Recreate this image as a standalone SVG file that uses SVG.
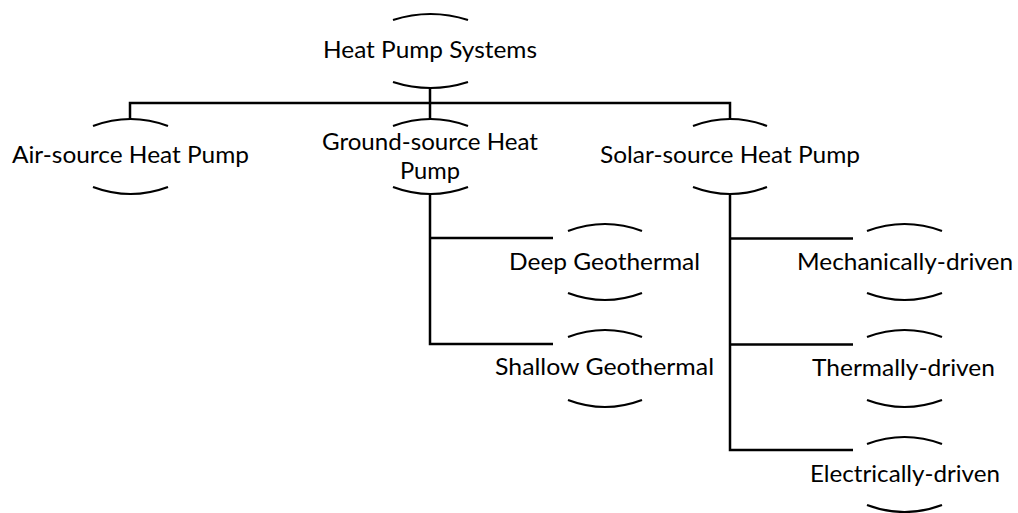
<svg xmlns="http://www.w3.org/2000/svg" width="1018" height="513" viewBox="0 0 1018 513">
<style>
.arc{fill:none;stroke:#000;stroke-width:2.2;stroke-linecap:butt}
.con{fill:none;stroke:#000;stroke-width:2.5;stroke-linejoin:miter}
text{font-family:Lato,"Open Sans","Liberation Sans",sans-serif;font-size:24px;fill:#000}
</style>
<rect width="1018" height="513" fill="#fff"/>
<g id="connectors">
<path class="con" d="M430,88 V119 M130,119 V103 H730 V119"/>
<path class="con" d="M430,194 V344 H553 M430,238 H553"/>
<path class="con" d="M730,194 V450 H853 M730,238.5 H853 M730,344.5 H853"/>
</g>
<g id="root">
<path class="arc" d="M393,20 Q430.5,8 468,20 M393,82 Q430.5,94 468,82"/>
<text x="323" y="58" textLength="214" lengthAdjust="spacingAndGlyphs">Heat Pump Systems</text>
</g>
<g id="air">
<path class="arc" d="M93,126 Q130.5,112 168,126 M93,187 Q130.5,201 168,187"/>
<text x="12" y="163" textLength="237" lengthAdjust="spacingAndGlyphs">Air-source Heat Pump</text>
</g>
<g id="ground">
<path class="arc" d="M393,126 Q430.5,112 468,126 M393,187 Q430.5,201 468,187"/>
<text x="322" y="150" textLength="216" lengthAdjust="spacingAndGlyphs">Ground-source Heat</text>
<text x="400" y="179" textLength="60" lengthAdjust="spacingAndGlyphs">Pump</text>
</g>
<g id="solar">
<path class="arc" d="M693,126 Q730,112 767,126 M693,187 Q730,201 767,187"/>
<text x="600" y="163" textLength="260" lengthAdjust="spacingAndGlyphs">Solar-source Heat Pump</text>
</g>
<g id="deep">
<path class="arc" d="M568,231 Q605,217 642,231 M568,293 Q605,307 642,293"/>
<text x="509" y="270" textLength="191" lengthAdjust="spacingAndGlyphs">Deep Geothermal</text>
</g>
<g id="shallow">
<path class="arc" d="M568,337 Q605,323 642,337 M568,400 Q605,414 642,400"/>
<text x="495" y="375" textLength="219" lengthAdjust="spacingAndGlyphs">Shallow Geothermal</text>
</g>
<g id="mechanically">
<path class="arc" d="M867,231 Q904.5,217 942,231 M867,293 Q904.5,307 942,293"/>
<text x="797" y="270" textLength="216" lengthAdjust="spacingAndGlyphs">Mechanically-driven</text>
</g>
<g id="thermally">
<path class="arc" d="M867,337 Q904.5,323 942,337 M867,400 Q904.5,414 942,400"/>
<text x="812" y="376" textLength="183" lengthAdjust="spacingAndGlyphs">Thermally-driven</text>
</g>
<g id="electrically">
<path class="arc" d="M867,444 Q904.5,430 942,444 M867,505 Q904.5,519 942,505"/>
<text x="810" y="482" textLength="190" lengthAdjust="spacingAndGlyphs">Electrically-driven</text>
</g>
</svg>
